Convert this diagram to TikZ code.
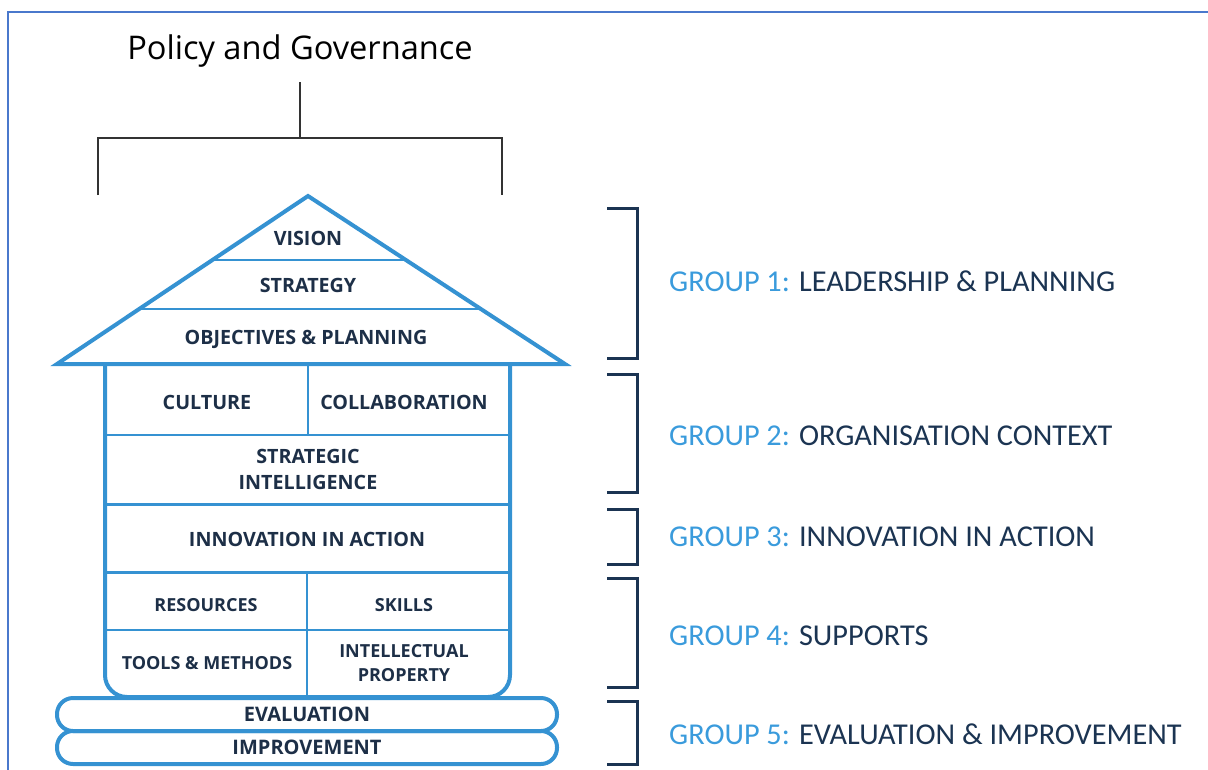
\documentclass[tikz,border=0pt]{standalone}
\usepackage{fontspec}
\setmainfont{Open Sans}
\newfontfamily\titlefont{Open Sans}
\newfontfamily\groupfont{Carlito}
\usetikzlibrary{calc}
\definecolor{frameblue}{HTML}{4A78CC}
\definecolor{houseblue}{HTML}{3592D2}
\definecolor{navy}{HTML}{1D2F47}
\definecolor{bracketnavy}{HTML}{1B3452}
\definecolor{groupblue}{HTML}{3A9BDC}
\tikzset{
  wall/.style={houseblue, line width=4pt, line join=miter},
  thickrule/.style={houseblue, line width=3pt},
  thinrule/.style={houseblue, line width=1.4pt},
  label/.style={text=navy, font=\bfseries\fontsize{19.7}{26}\selectfont, align=center, inner sep=0pt},
  smalllabel/.style={label, font=\bfseries\fontsize{18}{24}\selectfont},
  pill/.style={draw=houseblue, line width=4pt, rounded corners=16pt, minimum width=500pt, minimum height=33pt, inner sep=0pt, text=navy, font=\bfseries\fontsize{20}{24}\selectfont},
  groupbracket/.style={bracketnavy, line width=3pt},
  grouplabel/.style={anchor=west, inner sep=0pt, font=\groupfont\fontsize{30.3}{34}\selectfont, text=bracketnavy},
  govline/.style={black!80, line width=1.3pt}
}
\begin{document}
\begin{tikzpicture}[x=1pt, y=-1pt]
\useasboundingbox (0,0) rectangle (1208,769);
% page frame
\draw[frameblue, line width=2.2pt] (8,775) -- (8,12) -- (1215,12);

% policy and governance heading with its bracket
\node[inner sep=0pt, font=\titlefont\fontsize{32.6}{38}\selectfont] (policy) at (300,51) {Policy and Governance};
\coordinate (govtop) at (300,82);
\coordinate (govmid) at (300,138);
\coordinate (govleft) at (98,138);
\coordinate (govright) at (502,138);
\coordinate (govleftend) at (98,195);
\coordinate (govrightend) at (502,195);
\draw[govline] (govtop) -- (govmid);
\draw[govline] (govleftend) -- (govleft) -- (govright) -- (govrightend);

% roof
\coordinate (apex) at (308,196);
\coordinate (bl) at (57,364);
\coordinate (br) at (565,364);
\draw[wall] (bl) -- (apex) -- (br) -- cycle;
\draw[thinrule] ($(bl)!0.618!(apex)$) -- ($(br)!0.618!(apex)$);
\draw[thinrule] ($(bl)!0.327!(apex)$) -- ($(br)!0.327!(apex)$);
\node[label] (vision) at (308,238) {VISION};
\node[label] (strategy) at (308,285) {STRATEGY};
\node[label] (objectives) at (306,339) {OBJECTIVES \& PLANNING};

% walls
\draw[wall, rounded corners=22pt] (105,364) -- (105,697) -- (510,697) -- (510,364);
\draw[thinrule] (308,364) -- (308,435);
\draw[thinrule] (105,435) -- (510,435);
\draw[thickrule] (105,504) -- (510,504);
\draw[thickrule] (105,572) -- (510,572);
\draw[thinrule] (105,630) -- (510,630);
\draw[thinrule] (307,572) -- (307,697);

\node[label] (culture) at (207,402) {CULTURE};
\node[label] (collab) at (404,402) {COLLABORATION};
\node[label] (intel) at (308,469) {STRATEGIC\\INTELLIGENCE};
\node[label] (innov) at (307,539) {INNOVATION IN ACTION};
\node[smalllabel] (resources) at (206,605) {RESOURCES};
\node[smalllabel] (skills) at (404,605) {SKILLS};
\node[smalllabel] (tools) at (207,663) {TOOLS \& METHODS};
\node[smalllabel] (ip) at (404,663) {INTELLECTUAL\\PROPERTY};

% foundation
\node[pill] (evaluation) at (307,714.5) {EVALUATION};
\node[pill] (improvement) at (307,747.5) {IMPROVEMENT};

% group brackets and captions
\foreach \top/\bot in {208/358, 374/492, 509/564, 578/687, 701/764}{
  \draw[groupbracket] (607,\top) -- (637,\top) -- (637,\bot) -- (607,\bot);
}
\node[grouplabel] (g1) at (669,281) {\textcolor{groupblue}{GROUP 1:} LEADERSHIP \& PLANNING};
\node[grouplabel] (g2) at (669,436) {\textcolor{groupblue}{GROUP 2:} ORGANISATION CONTEXT};
\node[grouplabel] (g3) at (669,537) {\textcolor{groupblue}{GROUP 3:} INNOVATION IN ACTION};
\node[grouplabel] (g4) at (669,636) {\textcolor{groupblue}{GROUP 4:} SUPPORTS};
\node[grouplabel] (g5) at (669,734) {\textcolor{groupblue}{GROUP 5:} EVALUATION \& IMPROVEMENT};
\end{tikzpicture}
\end{document}
